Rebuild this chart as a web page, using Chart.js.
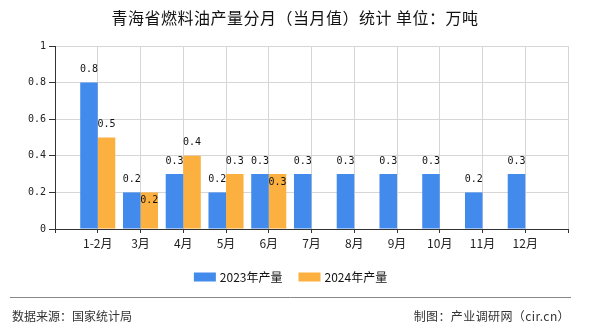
<!DOCTYPE html>
<html><head><meta charset="utf-8">
<script src="https://cdn.jsdelivr.net/npm/chart.js@4"></script>
<style>html,body{margin:0;padding:0;background:#fff;} canvas{display:block;}</style>
</head><body>
<canvas id="c" width="590" height="330"></canvas>
<script>
const titleText = '青海省燃料油产量分月（当月值）统计 单位：万吨';
const categories = ['1-2月','3月','4月','5月','6月','7月','8月','9月','10月','11月','12月'];
const output2023 = [0.8,0.2,0.3,0.2,0.3,0.3,0.3,0.3,0.3,0.2,0.3];
const output2024 = [0.5,0.2,0.4,0.3,0.3];
const seriesNames = ['2023年产量','2024年产量'];
const seriesColors = ['#428bed','#fbb03f'];
const yTicks = [0,0.2,0.4,0.6,0.8,1];
const yTickLabels = ['0','0.2','0.4','0.6','0.8','1'];
const sourceText = '数据来源：国家统计局';
const creditText = '制图：产业调研网（cir.cn）';

const pad = arr => [null, ...categories.map((_, i) => (arr[i] === undefined ? null : arr[i])), null];
const axisLabels = ['', ...categories, ''];

const deco = {
  id: 'deco',
  afterDatasetsDraw(chart) {
    const ctx = chart.ctx;
    ctx.save();
    ctx.font = '10px "DejaVu Sans Mono"';
    ctx.fillStyle = '#111';
    ctx.textAlign = 'center';
    ctx.textBaseline = 'middle';
    const d0 = chart.data.datasets[0].data;
    chart.data.datasets.forEach((ds, di) => {
      const meta = chart.getDatasetMeta(di);
      meta.data.forEach((bar, i) => {
        const v = ds.data[i];
        if (v === null || v === undefined) return;
        let y = bar.y - 13;
        if (di === 1 && d0[i] === v) y = bar.y + 8;
        ctx.fillText(String(v), bar.x, y);
      });
    });
    ctx.restore();
  },
  afterDraw(chart) {
    const ctx = chart.ctx;
    ctx.save();
    // title
    ctx.fillStyle = '#111';
    ctx.font = '16px "Noto Sans CJK SC"';
    ctx.textAlign = 'center';
    ctx.textBaseline = 'middle';
    try { ctx.letterSpacing = '0.5px'; } catch (e) {}
    ctx.fillText(titleText, 295, 18);
    try { ctx.letterSpacing = '0px'; } catch (e) {}
    // legend
    ctx.font = '12px "Noto Sans CJK SC"';
    ctx.textAlign = 'left';
    const widths = seriesNames.map(n => ctx.measureText(n).width);
    const box = 22, gap = 4, itemGap = 16;
    let total = 0;
    widths.forEach((w, i) => { total += box + gap + w + (i ? itemGap : 0); });
    let x = 290.5 - total / 2;
    const ly = 277;
    seriesNames.forEach((n, i) => {
      ctx.fillStyle = seriesColors[i];
      ctx.fillRect(x, ly - 4.5, box, 9);
      ctx.fillStyle = '#111';
      ctx.fillText(n, x + box + gap, ly);
      x += box + gap + widths[i] + itemGap;
    });
    // footer
    ctx.strokeStyle = '#888';
    ctx.lineWidth = 1;
    ctx.beginPath();
    ctx.moveTo(10, 297.5);
    ctx.lineTo(571, 297.5);
    ctx.stroke();
    ctx.fillStyle = '#333';
    ctx.font = '12px "Noto Sans CJK SC"';
    ctx.textAlign = 'left';
    ctx.fillText(sourceText, 12, 316);
    ctx.textAlign = 'right';
    try { ctx.letterSpacing = '0.4px'; } catch (e) {}
    ctx.fillText(creditText, 570, 316);
    try { ctx.letterSpacing = '0px'; } catch (e) {}
    ctx.restore();
  }
};

new Chart(document.getElementById('c'), {
  type: 'bar',
  data: {
    labels: axisLabels,
    datasets: [
      { label: seriesNames[0], data: pad(output2023), backgroundColor: seriesColors[0] },
      { label: seriesNames[1], data: pad(output2024), backgroundColor: seriesColors[1] }
    ]
  },
  options: {
    responsive: false,
    animation: false,
    layout: { padding: { left: 0, right: 22, top: 46, bottom: 71 } },
    plugins: { legend: { display: false }, title: { display: false }, tooltip: { enabled: false } },
    datasets: { bar: { categoryPercentage: 0.82, barPercentage: 1 } },
    scales: {
      x: {
        offset: false,
        grid: { offset: false, color: '#d6d6d6', tickColor: '#333', tickLength: 4 },
        border: { color: '#333' },
        ticks: { font: { family: '"Noto Sans CJK SC"', size: 12 }, color: '#222', padding: 3, autoSkip: false, maxRotation: 0 },
        afterFit(s) { s.height = 30; }
      },
      y: {
        min: 0, max: 1,
        grid: { color: '#d6d6d6', tickColor: '#333', tickLength: 6 },
        border: { color: '#333' },
        ticks: {
          font: { family: '"DejaVu Sans Mono"', size: 10 }, color: '#222', padding: 3,
          callback: (v, i) => yTickLabels[i]
        },
        afterBuildTicks(s) { s.ticks = yTicks.map(v => ({ value: v })); },
        afterFit(s) { s.width = 55; }
      }
    }
  },
  plugins: [deco]
});
</script>
</body></html>
